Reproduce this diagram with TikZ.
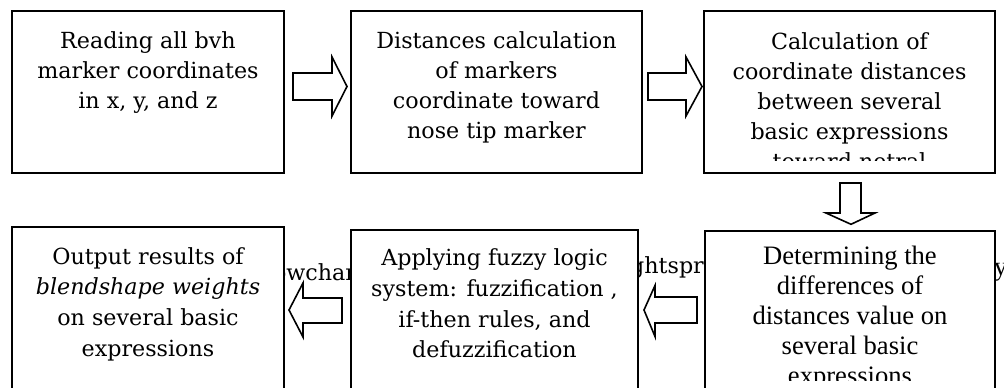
\documentclass[tikz,border=0pt]{standalone}
\usepackage{fontspec}
\setmainfont{Liberation Serif}
\newfontfamily\camb{DejaVu Serif}
\begin{document}
\begin{tikzpicture}[x=1pt,y=-1pt,
  box/.style={draw, line width=2pt, fill=white, inner sep=0pt, outer sep=0pt, anchor=north west},
  blk/.style={draw, line width=1.6pt, fill=white, line join=miter},
  topfont/.style={font=\camb\fontsize{22.2}{30}\selectfont},
  botfont/.style={font=\camb\fontsize{22.2}{30.8}\selectfont},
  timesfont/.style={font=\fontsize{26.6}{30}\selectfont},
  txt/.style={align=center, inner sep=0pt, anchor=north},
  bgtxt/.style={font=\camb\fontsize{22.2}{30}\selectfont, inner sep=0pt, anchor=base west}]
\useasboundingbox (0,0) rectangle (1004,388);
\clip (0,0) rectangle (1004,388);
\fill[white] (0,0) rectangle (1004,388);
% background text partly hidden by boxes
\node[bgtxt] (bgA) at (272.8,280.7) {owchart};
\node[bgtxt] (bgB) at (630,273) {ghtspr};
\node[bgtxt, font=\fontsize{26.6}{30}\selectfont] (bgC) at (994,275) {y};
% boxes
\node[box, minimum width=272pt, minimum height=162pt] (b1) at (12,11) {};
\node[box, minimum width=291pt, minimum height=162pt] (b2) at (351,11) {};
\node[box, minimum width=291pt, minimum height=162pt] (b3) at (704,11) {};
\node[box, minimum width=272pt, minimum height=180pt] (b4) at (12,227) {};
\node[box, minimum width=287pt, minimum height=180pt] (b5) at (351,230) {};
\node[box, minimum width=290pt, minimum height=180pt] (b6) at (705,231) {};
% texts
\node[txt, topfont] (t1) at (148,27) {\strut Reading all bvh\\marker coordinates\\in x, y, and z};
\node[txt, topfont] (t2) at (496.5,27) {\strut Distances calculation\\of markers\\coordinate toward\\nose tip marker};
\begin{scope}
  \clip (706,13) rectangle (993,160);
  \node[txt, topfont] (t3) at (849.5,28) {\strut Calculation of\\coordinate distances\\between several\\basic expressions\\toward netral};
\end{scope}
\node[txt, botfont] (t4) at (148,242.4) {\strut Output results of\\\textit{blendshape weights}\\on several basic\\expressions};
\node[txt, botfont] (t5) at (494.5,243.7) {\strut Applying fuzzy logic\\system: fuzzification ,\\if-then rules, and\\defuzzification};
\begin{scope}
  \clip (707,233) rectangle (993,380);
  \node[txt, timesfont] (t6) at (850,243.7) {\strut Determining the\\differences of\\distances value on\\several basic\\expressions};
\end{scope}
% block arrows
\draw[blk] (293,73) -- (332,73) -- (332,57) -- (347,86.5) -- (332,116) -- (332,100) -- (293,100) -- cycle;
\draw[blk] (648,73) -- (686,73) -- (686,57) -- (702,86.5) -- (686,116) -- (686,100) -- (648,100) -- cycle;
\draw[blk] (840,183) -- (861,183) -- (861,213) -- (875,213) -- (851,224.3) -- (826,213) -- (840,213) -- cycle;
\draw[blk] (697,297) -- (655,297) -- (655,285.5) -- (644,310) -- (655,336.5) -- (655,323) -- (697,323) -- cycle;
\draw[blk] (342,298) -- (303,298) -- (303,283) -- (289,310) -- (303,337) -- (303,323) -- (342,323) -- cycle;
\end{tikzpicture}
\end{document}
